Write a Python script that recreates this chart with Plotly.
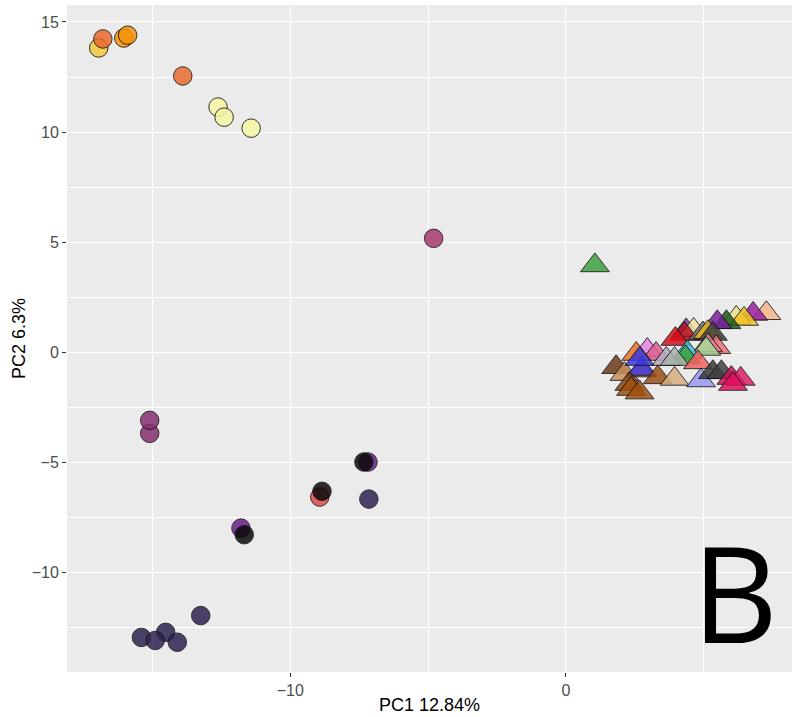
import plotly.graph_objects as go

# Sample scores on the first two principal components
# Circle group (drawn in order, later points on top)
circle_pc1 = [-16.95, -16.8, -16.04, -15.9, -13.9, -12.62, -12.4, -11.42,
              -4.8,
              -15.1, -15.1,
              -11.79, -11.67,
              -8.93, -8.85,
              -7.18, -7.33, -7.15,
              -13.25, -15.4, -14.52, -14.9, -14.1]
circle_pc2 = [13.82, 14.23, 14.27, 14.4, 12.55, 11.14, 10.68, 10.18,
              5.18,
              -3.67, -3.08,
              -7.97, -8.27,
              -6.56, -6.3,
              -4.97, -4.97, -6.65,
              -11.94, -12.93, -12.7, -13.07, -13.15]
circle_colors = ["#F1C83A", "#EB6A30", "#F5940A", "#F5940A", "#EB6A30", "#F6F6A4", "#F6F6A4", "#F6F6A4",
                 "#A8386F",
                 "#86306F", "#86306F",
                 "#6A1E88", "#0A0A0A",
                 "#E24A4A", "#0A0A0A",
                 "#6A1E88", "#0A0A0A", "#2E2250",
                 "#2E2250", "#2E2250", "#2E2250", "#2E2250", "#2E2250"]

# Triangle group
tri_pc1 = [1.05,
           7.27, 6.79, 6.18, 6.46, 5.82, 5.49,
           4.36, 4.63, 4.30, 4.97, 5.15, 5.33, 3.97,
           5.45, 5.15, 5.09, 4.40, 4.34,
           2.95, 3.27, 3.64, 3.94, 4.79,
           1.82, 2.12, 2.55, 2.73, 2.75, 2.67,
           3.33, 2.30, 2.36, 2.67,
           3.94, 4.90, 5.33, 5.64, 6.00, 6.34, 6.06]
tri_pc2 = [3.95,
           1.78, 1.75, 1.57, 1.52, 1.37, 1.37,
           1.00, 1.02, 0.84, 0.86, 0.92, 0.84, 0.61,
           0.24, 0.32, 0.16, 0.00, -0.22,
           0.11, -0.07, -0.30, -0.30, -0.45,
           -0.67, -0.98, -0.07, -0.82, -0.75, -0.30,
           -1.13, -1.43, -1.66, -1.82,
           -1.20, -1.27, -0.90, -0.90, -1.16, -1.20, -1.43]
tri_colors = ["#3FA03F",
              "#F6B888", "#9A1FA0", "#F0E08C", "#F2C420", "#1E5A1E", "#7A1FA0",
              "#7A3FA8", "#F2E2A2", "#B2101C", "#707070", "#E8B820", "#404040", "#D6101C",
              "#F07070", "#E5809A", "#A6DA96", "#40C0E0", "#3FA03F",
              "#E585E5", "#E06092", "#B6ACC4", "#A8B4A8", "#F26262",
              "#6E3A1A", "#C8915A", "#F07020", "#F07020", "#3A3AE2", "#3A3AE2",
              "#9C5015", "#8B4513", "#A0520F", "#A0520F",
              "#D8AE80", "#9898F2", "#3A3A3A", "#404040", "#D0105A", "#E0206A", "#E01060"]

x_ticks = [-10, 0]
y_ticks = [-10, -5, 0, 5, 10, 15]

FONT = "Liberation Sans, Arial, sans-serif"

fig = go.Figure()

fig.add_trace(go.Scatter(
    x=circle_pc1, y=circle_pc2, mode="markers",
    marker=dict(symbol="circle", size=18.5, color=circle_colors, opacity=0.85,
                line=dict(color="#111111", width=1)),
    showlegend=False, hoverinfo="x+y",
))

fig.add_trace(go.Scatter(
    x=tri_pc1, y=tri_pc2, mode="markers",
    marker=dict(symbol="triangle-up", size=25, color=tri_colors, opacity=0.85,
                line=dict(color="#111111", width=1)),
    showlegend=False, hoverinfo="x+y",
))

axis_common = dict(
    showline=False, zeroline=False, automargin=False,
    showgrid=True, gridcolor="white", gridwidth=1.2,
    ticks="outside", ticklen=4, tickwidth=1, tickcolor="#333333",
    tickfont=dict(family=FONT, size=16, color="#4D4D4D"),
)

fig.update_xaxes(
    range=[-18.1, 8.2], tickmode="array", tickvals=x_ticks,
    minor=dict(dtick=5, tick0=0, showgrid=True, gridcolor="white", gridwidth=0.6),
    title=dict(text="PC1 12.84%", standoff=0,
               font=dict(family=FONT, size=18, color="black")),
    **axis_common,
)
fig.update_yaxes(
    range=[-14.5, 15.77], tickmode="array", tickvals=y_ticks,
    minor=dict(dtick=2.5, tick0=0, showgrid=True, gridcolor="white", gridwidth=0.6),
    title=dict(text="PC2 6.3%", standoff=1,
               font=dict(family=FONT, size=18, color="black")),
    **axis_common,
)

fig.add_annotation(
    text="B", xref="paper", yref="paper", x=0.921, y=0.121,
    xanchor="center", yanchor="middle", showarrow=False,
    font=dict(family="Open Sans, Liberation Sans, sans-serif", size=133, color="black"),
)

fig.update_layout(
    width=797, height=717,
    margin=dict(l=67, r=5, t=5, b=45),
    paper_bgcolor="white", plot_bgcolor="#EBEBEB",
)

fig.write_html("out.html")
